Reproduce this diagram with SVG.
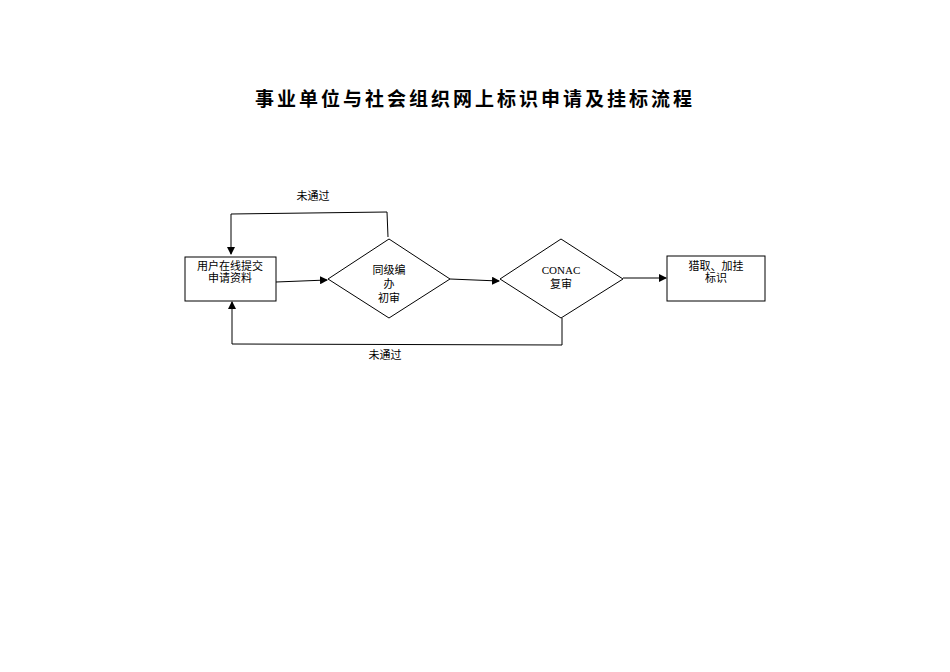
<svg xmlns="http://www.w3.org/2000/svg" width="950" height="672" viewBox="0 0 950 672">
<defs><marker id="a" markerWidth="8" markerHeight="8" refX="7" refY="4" orient="auto" markerUnits="userSpaceOnUse"><path d="M0,0L8,4L0,8z" fill="#000"/></marker></defs>
<style>
.s{fill:#fff;stroke:#000;stroke-width:1}
.t{font-family:"Liberation Serif","Noto Sans CJK SC",serif;font-size:11px;text-anchor:middle;fill:#000}
.c{fill:none;stroke:#000;stroke-width:1;marker-end:url(#a)}
</style>
<rect width="950" height="672" fill="#fff"/>
<text x="475" y="106" style="font-family:'Noto Sans CJK SC',sans-serif;font-size:19px;font-weight:bold;letter-spacing:3px" text-anchor="middle">事业单位与社会组织网上标识申请及挂标流程</text>
<g id="n1"><rect class="s" x="185" y="257" width="91" height="44"/><text class="t" x="230" y="270">用户在线提交</text><text class="t" x="230" y="282">申请资料</text></g>
<g id="n2"><polygon class="s" points="389,239 450,279 389,318 328,279"/><text class="t" x="389" y="274">同级编</text><text class="t" x="389" y="288">办</text><text class="t" x="389" y="302">初审</text></g>
<g id="n3"><polygon class="s" points="561,239 623,279 561,318 500,279"/><text class="t" x="561" y="274">CONAC</text><text class="t" x="561" y="288">复审</text></g>
<g id="n4"><rect class="s" x="667" y="256" width="98" height="45"/><text class="t" x="716" y="270">猎取、加挂</text><text class="t" x="716" y="282">标识</text></g>
<g id="edges">
<path class="c" d="M276,282 L327,280"/>
<path class="c" d="M450,279 L499,281"/>
<path class="c" d="M623,278 L666,278"/>
<path class="c" d="M388,237 L387,212 L231,214 L231,254"/>
<path class="c" d="M562,318 L562,345 L232,344 L232,302"/>
<text class="t" x="313" y="200">未通过</text>
<text class="t" x="385" y="359">未通过</text>
</g>
</svg>
